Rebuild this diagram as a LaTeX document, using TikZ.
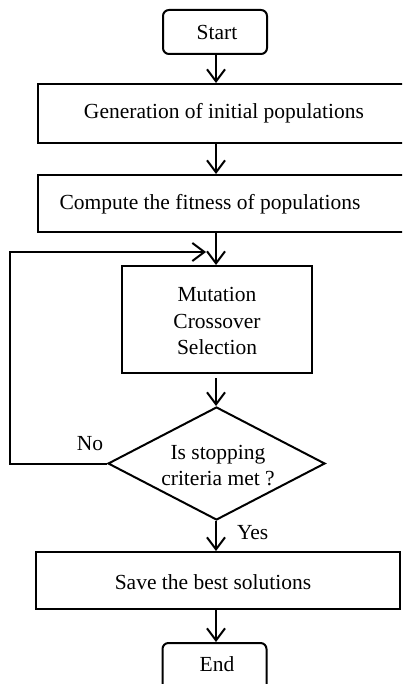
\documentclass[tikz,border=0pt]{standalone}
\usepackage{fontspec}
\setmainfont{Liberation Serif}
\usetikzlibrary{arrows.meta,shapes.geometric}
\begin{document}
\begin{tikzpicture}[x=1pt,y=-1pt,
  every node/.style={font=\fontsize{21.5}{26.5}\selectfont},
  box/.style={draw,line width=2pt,inner sep=0pt},
  term/.style={box,rounded corners=6pt,minimum width=104pt,minimum height=44pt},
  conn/.style={line width=2pt,-{Straight Barb[length=12pt,width=18pt,line width=2pt]}},
  lbl/.style={inner sep=0pt}]
\useasboundingbox (0,0) rectangle (402,684);
\clip (0,0) rectangle (402,684);
% boxes
\node[term] (start) at (215,32) {};
\node[lbl] at (217,32) {Start};
\node[box,minimum width=372pt,minimum height=59pt] (gen) at (224,113.5) {};
\node[lbl] at (224,113) {Generation of initial populations};
\node[box,minimum width=372pt,minimum height=57pt] (comp) at (224,203.5) {};
\node[lbl] at (210,204) {Compute the fitness of populations};
\node[box,minimum width=190pt,minimum height=107pt] (mut) at (217,319.5) {};
\node[lbl,align=center] at (217,321) {Mutation\\Crossover\\Selection};
\node[draw,diamond,line width=2pt,inner sep=0pt,minimum width=217pt,minimum height=113pt] (dec) at (216.5,463.5) {};
\node[lbl,align=center,font=\fontsize{21.5}{26}\selectfont] at (218,466) {Is stopping\\criteria met ?};
\node[box,minimum width=364pt,minimum height=57pt] (save) at (218,580.5) {};
\node[lbl] at (213,582) {Save the best solutions};
\node[term,minimum height=50pt] (end) at (214.5,668) {};
\node[lbl] at (217,664) {End};
% connectors
\coordinate (c1) at (216,54);
\draw[conn] (start.south -| c1) -- (gen.north -| c1);
\draw[conn] (gen.south -| c1) -- (comp.north -| c1);
\draw[conn] (comp.south -| c1) -- (mut.north -| c1);
\draw[conn,shorten <=4pt] (mut.south -| c1) -- (dec.north -| c1);
\draw[conn] (dec.south -| c1) -- node[lbl,right,xshift=20pt,yshift=3pt]{Yes} (save.north -| c1);
\draw[conn] (save.south -| c1) -- (end.north -| c1);
\coordinate (lp1) at (10,463.5);
\coordinate (lp2) at (10,252);
\coordinate (lp3) at (206,252);
\draw[conn] (dec.west) -- (lp1) -- (lp2) -- (lp3);
\node[lbl] (no) at (90,444) {No};
\end{tikzpicture}
\end{document}
